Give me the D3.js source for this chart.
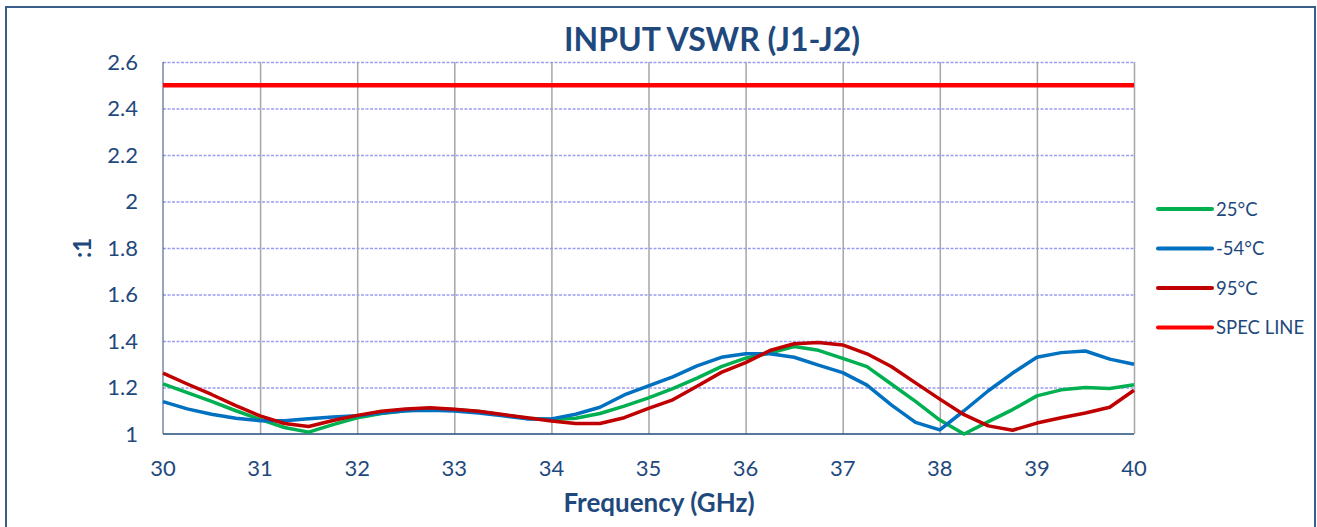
<!DOCTYPE html>
<html>
<head>
  <meta charset="utf-8">
  <title>INPUT VSWR (J1-J2)</title>
  <script src="https://d3js.org/d3.v7.min.js"></script>
  <style>
    body { margin: 0; background: #fff; }
    svg { display: block; font-family: Lato, "Open Sans", sans-serif; }
    .tick-label { fill: #1F497D; font-size: 22px; }
    .legend-text { fill: #1F497D; font-size: 18.5px; }
  </style>
</head>
<body>
<div id="chart"></div>
<script>
// chart data
var freq = [30, 30.25, 30.5, 30.75, 31, 31.25, 31.5, 31.75, 32, 32.25, 32.5, 32.75,
            33, 33.25, 33.5, 33.75, 34, 34.25, 34.5, 34.75, 35, 35.25, 35.5, 35.75,
            36, 36.25, 36.5, 36.75, 37, 37.25, 37.5, 37.75, 38, 38.25, 38.5, 38.75,
            39, 39.25, 39.5, 39.75, 40];

var vswr25 = [1.216, 1.178, 1.140, 1.100, 1.063, 1.028, 1.008, 1.040, 1.070, 1.088, 1.100, 1.108,
              1.105, 1.097, 1.082, 1.068, 1.062, 1.068, 1.088, 1.120, 1.155, 1.195, 1.240, 1.290,
              1.326, 1.348, 1.376, 1.360, 1.325, 1.290, 1.215, 1.140, 1.060, 1.000, 1.053, 1.105,
              1.164, 1.190, 1.200, 1.196, 1.212];

var vswrMinus54 = [1.139, 1.108, 1.085, 1.068, 1.057, 1.057, 1.066, 1.073, 1.078, 1.090, 1.100, 1.102,
                   1.099, 1.090, 1.078, 1.065, 1.065, 1.085, 1.115, 1.168, 1.207, 1.246, 1.293, 1.330,
                   1.345, 1.345, 1.330, 1.296, 1.264, 1.210, 1.125, 1.050, 1.018, 1.100, 1.186, 1.262,
                   1.330, 1.350, 1.357, 1.322, 1.300];

var vswr95 = [1.262, 1.215, 1.170, 1.122, 1.078, 1.045, 1.032, 1.058, 1.080, 1.098, 1.108, 1.113,
              1.106, 1.098, 1.084, 1.070, 1.056, 1.045, 1.045, 1.070, 1.110, 1.147, 1.205, 1.265,
              1.307, 1.359, 1.388, 1.394, 1.383, 1.345, 1.290, 1.220, 1.150, 1.083, 1.035, 1.016,
              1.047, 1.070, 1.090, 1.115, 1.188];

var specFreq = [30, 40];
var specValue = [2.5, 2.5];

var xTicks = [30, 31, 32, 33, 34, 35, 36, 37, 38, 39, 40];
var yTicks = [1, 1.2, 1.4, 1.6, 1.8, 2, 2.2, 2.4, 2.6];

var seriesNames = ["25°C", "-54°C", "95°C", "SPEC LINE"];
var seriesColors = ["#00B050", "#0070C0", "#C00000", "#FF0000"];

// build the series table
var series = [
  { name: seriesNames[0], color: seriesColors[0], pts: freq.map(function(f, i) { return [f, vswr25[i]]; }) },
  { name: seriesNames[1], color: seriesColors[1], pts: freq.map(function(f, i) { return [f, vswrMinus54[i]]; }) },
  { name: seriesNames[2], color: seriesColors[2], pts: freq.map(function(f, i) { return [f, vswr95[i]]; }) },
  { name: seriesNames[3], color: seriesColors[3], pts: specFreq.map(function(f, i) { return [f, specValue[i]]; }) }
];

var W = 1317, H = 527;
var plot = { left: 163, right: 1134, top: 62, bottom: 434 };

var svg = d3.select("#chart").append("svg")
  .attr("width", W)
  .attr("height", H);

// outer chart frame
svg.append("rect")
  .attr("x", 6).attr("y", 7)
  .attr("width", 1309).attr("height", 540)
  .attr("fill", "#fff")
  .attr("stroke", "#3A5E8C")
  .attr("stroke-width", 2);

var x = d3.scaleLinear().domain([30, 40]).range([plot.left, plot.right]);
var y = d3.scaleLinear().domain([1, 2.6]).range([plot.bottom, plot.top]);

// horizontal dashed grid
svg.append("g")
  .attr("transform", "translate(" + plot.left + ",0)")
  .call(d3.axisLeft(y).tickValues(yTicks.slice(1)).tickSize(-(plot.right - plot.left)).tickFormat(""))
  .call(function(g) { g.select(".domain").remove(); })
  .selectAll("line")
  .attr("stroke", "#9C9CF5")
  .attr("stroke-width", 1.5)
  .attr("stroke-dasharray", "3,1.5");

// vertical solid grid
svg.append("g")
  .attr("transform", "translate(0," + plot.bottom + ")")
  .call(d3.axisBottom(x).tickValues(xTicks.slice(1)).tickSize(-(plot.bottom - plot.top)).tickFormat(""))
  .call(function(g) { g.select(".domain").remove(); })
  .selectAll("line")
  .attr("stroke", "#A6A6A6")
  .attr("stroke-width", 1.5);

// axis lines
svg.append("line")
  .attr("x1", plot.left).attr("x2", plot.left)
  .attr("y1", plot.top).attr("y2", plot.bottom)
  .attr("stroke", "#2F4F7F").attr("stroke-width", 1);
svg.append("line")
  .attr("x1", plot.left).attr("x2", plot.right)
  .attr("y1", plot.bottom).attr("y2", plot.bottom)
  .attr("stroke", "#1F4E79").attr("stroke-width", 1.5);

// tick labels
svg.selectAll(".ylab")
  .data(yTicks)
  .enter().append("text")
  .attr("class", "tick-label")
  .attr("x", 138)
  .attr("y", function(d) { return y(d); })
  .attr("dy", "0.36em")
  .attr("text-anchor", "end")
  .text(function(d) { return d3.format("~g")(d); });

svg.selectAll(".xlab")
  .data(xTicks)
  .enter().append("text")
  .attr("class", "tick-label")
  .attr("x", function(d) { return x(d); })
  .attr("y", 476)
  .attr("text-anchor", "middle")
  .text(function(d) { return d; });

// data lines
var line = d3.line()
  .x(function(d) { return x(d[0]); })
  .y(function(d) { return y(d[1]); });

svg.selectAll(".series")
  .data(series)
  .enter().append("path")
  .attr("class", "series")
  .attr("d", function(d) { return line(d.pts); })
  .attr("fill", "none")
  .attr("stroke", function(d) { return d.color; })
  .attr("stroke-width", function(d) { return d.name === "SPEC LINE" ? 4.5 : 3.5; })
  .attr("stroke-linejoin", "round");

// titles
svg.append("text")
  .attr("x", 712).attr("y", 51)
  .attr("text-anchor", "middle")
  .attr("font-size", 32).attr("font-weight", "bold")
  .attr("fill", "#1F497D")
  .text("INPUT VSWR (J1-J2)");

svg.append("text")
  .attr("x", 659).attr("y", 512)
  .attr("text-anchor", "middle")
  .attr("font-size", 26).attr("font-weight", "bold")
  .attr("fill", "#1F497D")
  .text("Frequency (GHz)");

svg.append("text")
  .attr("transform", "translate(91,248) rotate(-90)")
  .attr("text-anchor", "middle")
  .attr("font-size", 24).attr("font-weight", "bold")
  .attr("fill", "#1F497D")
  .text(":1");

// legend
var legend = svg.selectAll(".legend")
  .data(series)
  .enter().append("g")
  .attr("class", "legend")
  .attr("transform", function(d, i) { return "translate(1158," + (209 + i * 39.5) + ")"; });

legend.append("line")
  .attr("x1", 0).attr("x2", 54)
  .attr("stroke", function(d) { return d.color; })
  .attr("stroke-width", 4)
  .attr("stroke-linecap", "round");

legend.append("text")
  .attr("class", "legend-text")
  .attr("x", 58)
  .attr("dy", "0.36em")
  .text(function(d) { return d.name; });
</script>
</body>
</html>
